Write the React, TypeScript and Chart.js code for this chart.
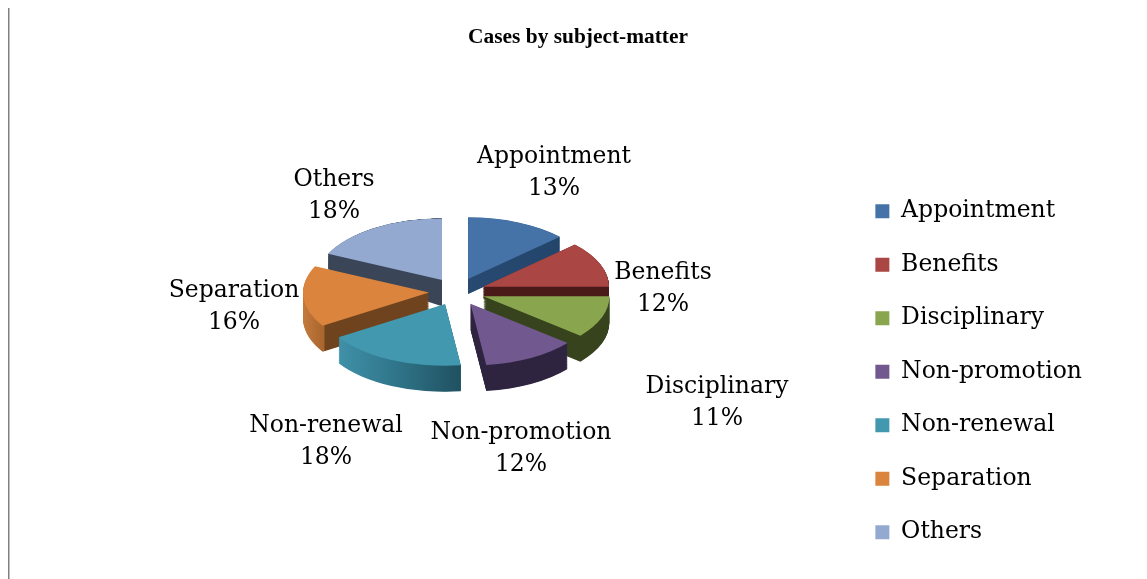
import React, { useEffect, useRef } from "react";
import { Chart, registerables } from "chart.js";

Chart.register(...registerables);

const categories = ["Appointment", "Benefits", "Disciplinary", "Non-promotion", "Non-renewal", "Separation", "Others"];
const percentages = [13, 12, 11, 12, 18, 16, 18];
const faceColors = ["#4573A7", "#AA4644", "#89A54E", "#71588F", "#4298AF", "#DB843D", "#93A9CF"];
const titleText = "Cases by subject-matter";

// drawing order: rear slices first
const paintOrder = [6, 0, 1, 5, 2, 4, 3];
const sideDepth = [15, 12, 26, 26, 26, 26, 15];
const depthSlope = [0, 0, 0, 0, 0, 0, 0.41];
const depthRefY = 253;
// side gradient stops as [device x, colour]
const sideStops: [number, string][][] = [
  [[470, "#284a70"], [565, "#24456b"]],
  [[484, "#4a1a18"], [612, "#4a1a18"]],
  [[484, "#37431d"], [612, "#37431d"]],
  [[470, "#2e2440"], [570, "#2e2440"]],
  [[340, "#3f90a8"], [400, "#2f7387"], [462, "#1f5060"]],
  [[303, "#c47a3c"], [324, "#a8652e"], [325, "#6f431d"], [432, "#6f431d"]],
  [[330, "#3b4558"], [445, "#3b4558"]],
];

const labelCenterX = [554, 663, 717, 521, 326, 234, 334];
const labelLineY = [157, 273, 387, 433, 426, 291, 180];
const labelLineGap = 31.5;

const pieCx = 457;
const pieCy = 291.7;
const pieRx = 126;
const pieTilt = 0.49;
const explodeFraction = 28 / 126;
const serif = "'DejaVu Serif', serif";

const App = () => {
  const ref = useRef<HTMLCanvasElement>(null);
  useEffect(() => {
    const tilted = {
      id: "tilted",
      beforeDatasetDraw(chart: any) {
        const ctx = chart.ctx;
        const arcs = chart.getDatasetMeta(0).data;
        const first = arcs[0].getProps(["x", "y", "outerRadius"], true);
        const s = pieRx / first.outerRadius;
        const sy = s * pieTilt;
        const tx = pieCx - first.x * s;
        const ty = pieCy - first.y * sy;
        paintOrder.forEach((i) => {
          const a = arcs[i];
          const p = a.getProps(["x", "y", "startAngle", "endAngle", "outerRadius"], true);
          // the arc's own offset option sets how far the slice is pulled out (a quarter of it, as in ArcElement)
          const off = (a.options.offset || 0) / 4;
          const mid = (p.startAngle + p.endAngle) / 2;
          const ax = p.x + Math.cos(mid) * off;
          const ay = p.y + Math.sin(mid) * off;
          const stops = sideStops[i];
          const x0 = stops[0][0];
          const x1 = stops[stops.length - 1][0];
          const grad = ctx.createLinearGradient((x0 - tx) / s, 0, (x1 - tx) / s, 0);
          stops.forEach(([x, c]) => grad.addColorStop((x - x0) / (x1 - x0), c));
          const wedge = () => {
            ctx.beginPath();
            ctx.moveTo(ax, ay);
            ctx.arc(ax, ay, p.outerRadius, p.startAngle, p.endAngle);
            ctx.closePath();
          };
          const layers = 40;
          for (let k = layers; k >= 1; k--) {
            const t = k / layers;
            const e = 1 + t * depthSlope[i];
            const f = t * (sideDepth[i] - depthSlope[i] * depthRefY);
            ctx.save();
            ctx.setTransform(s, 0, 0, sy * e, tx, ty * e + f);
            wedge();
            ctx.fillStyle = grad;
            ctx.fill();
            ctx.restore();
          }
          ctx.save();
          ctx.setTransform(s, 0, 0, sy, tx, ty);
          wedge();
          ctx.fillStyle = a.options.backgroundColor;
          ctx.fill();
          ctx.restore();
        });
        return false;
      },
      afterDraw(chart: any) {
        const ctx = chart.ctx;
        ctx.save();
        ctx.fillStyle = "#000";
        ctx.font = `23.5px ${serif}`;
        ctx.textAlign = "center";
        ctx.textBaseline = "middle";
        categories.forEach((c, i) => {
          ctx.fillText(c, labelCenterX[i], labelLineY[i]);
          ctx.fillText(`${percentages[i]}%`, labelCenterX[i], labelLineY[i] + labelLineGap);
        });
        ctx.strokeStyle = "#808080";
        ctx.lineWidth = 1.5;
        ctx.beginPath();
        ctx.moveTo(8.75, 8);
        ctx.lineTo(8.75, 579);
        ctx.stroke();
        ctx.restore();
      },
    };
    const chart = new Chart(ref.current!, {
      type: "pie",
      data: {
        labels: categories,
        datasets: [{
          data: percentages,
          backgroundColor: faceColors,
          borderWidth: 0,
          hoverOffset: 0,
          offset: (c: any) => {
            const area = c.chart.chartArea;
            if (!area) return 0;
            const h = Math.min(area.width, area.height);
            return (h * 4 * explodeFraction) / (2 + 4 * explodeFraction);
          },
        }],
      },
      options: {
        responsive: false,
        animation: false,
        events: [],
        layout: { padding: { left: 64, right: 55, bottom: 5, top: 0 } },
        plugins: {
          title: {
            display: true,
            text: titleText,
            color: "#000",
            font: { family: "'Liberation Serif', serif", size: 21.4, weight: "bold" },
            padding: { top: 25, bottom: 10 },
          },
          legend: {
            position: "right",
            align: "end",
            labels: {
              boxWidth: 14,
              boxHeight: 14,
              padding: 30,
              color: "#000",
              font: { family: serif, size: 23.5 },
            },
          },
          tooltip: { enabled: false },
        },
      },
      plugins: [tilted],
    } as any);
    return () => chart.destroy();
  }, []);
  return (
    <div style={{ position: "fixed", left: 0, top: 0, width: 1147, height: 579, overflow: "hidden", background: "#fff" }}>
      <canvas ref={ref} width={1147} height={579} style={{ display: "block" }} />
    </div>
  );
};

export default App;
